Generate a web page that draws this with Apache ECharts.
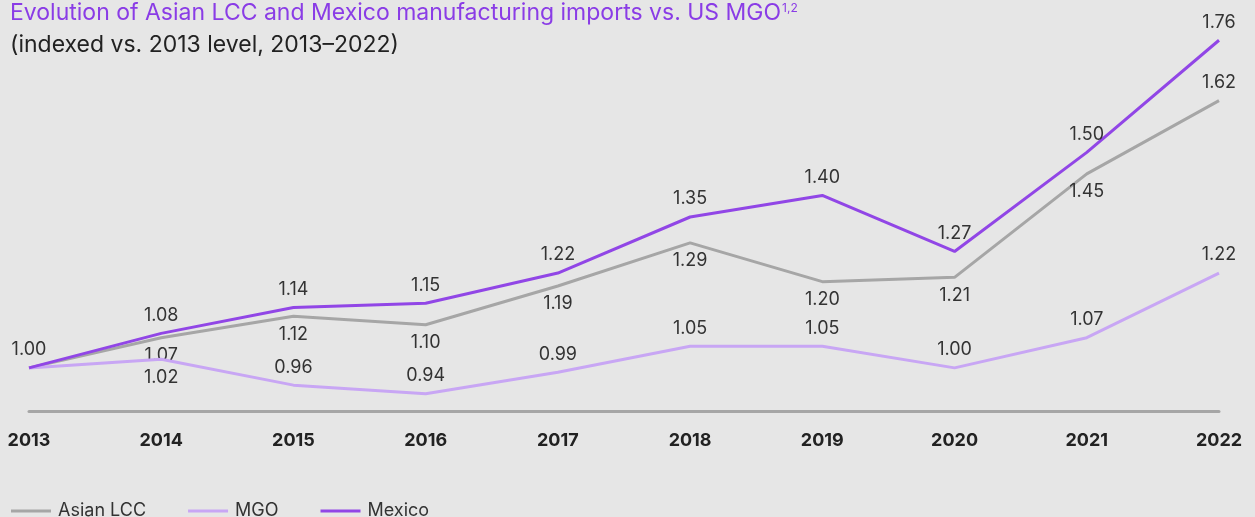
<!DOCTYPE html>
<html>
<head>
<meta charset="utf-8">
<script src="https://cdn.jsdelivr.net/npm/echarts@6/dist/echarts.min.js"></script>
<style>
  html, body { margin: 0; padding: 0; background: #e6e6e6; }
  #chart { width: 1255px; height: 517px; }
</style>
</head>
<body>
<div id="chart"></div>
<script>
// Index values, 2013 = 1.00
const years = ['2013', '2014', '2015', '2016', '2017', '2018', '2019', '2020', '2021', '2022'];
const asianLcc = [1.00, 1.07, 1.12, 1.10, 1.19, 1.29, 1.20, 1.21, 1.45, 1.62];
const mgo = [1.00, 1.02, 0.96, 0.94, 0.99, 1.05, 1.05, 1.00, 1.07, 1.22];
const mexico = [1.00, 1.08, 1.14, 1.15, 1.22, 1.35, 1.40, 1.27, 1.50, 1.76];

// Where each series puts its value labels (null = no label)
const asianLabelPos = [null, 'bottom', 'bottom', 'bottom', 'bottom', 'bottom', 'bottom', 'bottom', 'bottom', 'top'];
const mgoLabelPos = [null, 'bottom', 'top', 'top', 'top', 'top', 'top', 'top', 'top', 'top'];
const mexicoLabelPos = ['top', 'top', 'top', 'top', 'top', 'top', 'top', 'top', 'top', 'top'];

const FONT = 'Inter, "Noto Sans", sans-serif';

function withLabels(values, positions) {
  return values.map((v, i) => ({
    value: v,
    label: positions[i]
      ? { show: true, position: positions[i], distance: 9 }
      : { show: false }
  }));
}

function lineSeries(name, color, values, positions, z) {
  return {
    name: name,
    type: 'line',
    data: withLabels(values, positions),
    // invisible symbols carry the value labels
    symbol: 'circle',
    symbolSize: 0,
    showSymbol: true,
    z: z,
    lineStyle: { color: color, width: 3 },
    itemStyle: { color: color },
    label: {
      fontFamily: FONT,
      fontSize: 18,
      color: '#333333',
      formatter: p => p.value.toFixed(2)
    },
    emphasis: { disabled: true }
  };
}

const chart = echarts.init(document.getElementById('chart'), null, { renderer: 'canvas' });

chart.setOption({
  backgroundColor: '#e6e6e6',
  animation: false,
  title: {
    left: 5,
    top: -3,
    itemGap: 9,
    text: 'Evolution of Asian LCC and Mexico manufacturing imports vs. US MGO{sup|1,2}',
    subtext: '(indexed vs. 2013 level, 2013–2022)',
    textStyle: {
      fontFamily: FONT,
      fontSize: 23,
      fontWeight: 'normal',
      color: '#8a3ce6',
      rich: {
        sup: { fontFamily: FONT, fontSize: 12, color: '#8a3ce6', verticalAlign: 'top', padding: [0, 0, 10, 1] }
      }
    },
    subtextStyle: {
      fontFamily: FONT,
      fontSize: 23,
      color: '#222222'
    }
  },
  legend: {
    left: 6,
    top: 497,
    icon: 'rect',
    itemWidth: 40,
    itemHeight: 3,
    itemGap: 42,
    textStyle: { fontFamily: FONT, fontSize: 18, color: '#333333', padding: [0, 0, 0, 2] },
    data: ['Asian LCC', 'MGO', 'Mexico']
  },
  grid: { left: 29, right: 36, top: 23, bottom: 106 },
  xAxis: {
    type: 'category',
    data: years,
    boundaryGap: false,
    axisLine: { show: true, lineStyle: { color: '#a6a6a6', width: 3 } },
    axisTick: { show: false },
    axisLabel: {
      margin: 21,
      fontFamily: FONT,
      fontSize: 18,
      fontWeight: 'bold',
      color: '#222222'
    }
  },
  yAxis: {
    type: 'value',
    min: 0.9,
    max: 1.8,
    show: false,
    splitLine: { show: false }
  },
  series: [
    lineSeries('Asian LCC', '#a6a6a6', asianLcc, asianLabelPos, 2),
    lineSeries('MGO', '#c8a6f4', mgo, mgoLabelPos, 3),
    lineSeries('Mexico', '#9146e6', mexico, mexicoLabelPos, 4)
  ]
});
</script>
</body>
</html>
